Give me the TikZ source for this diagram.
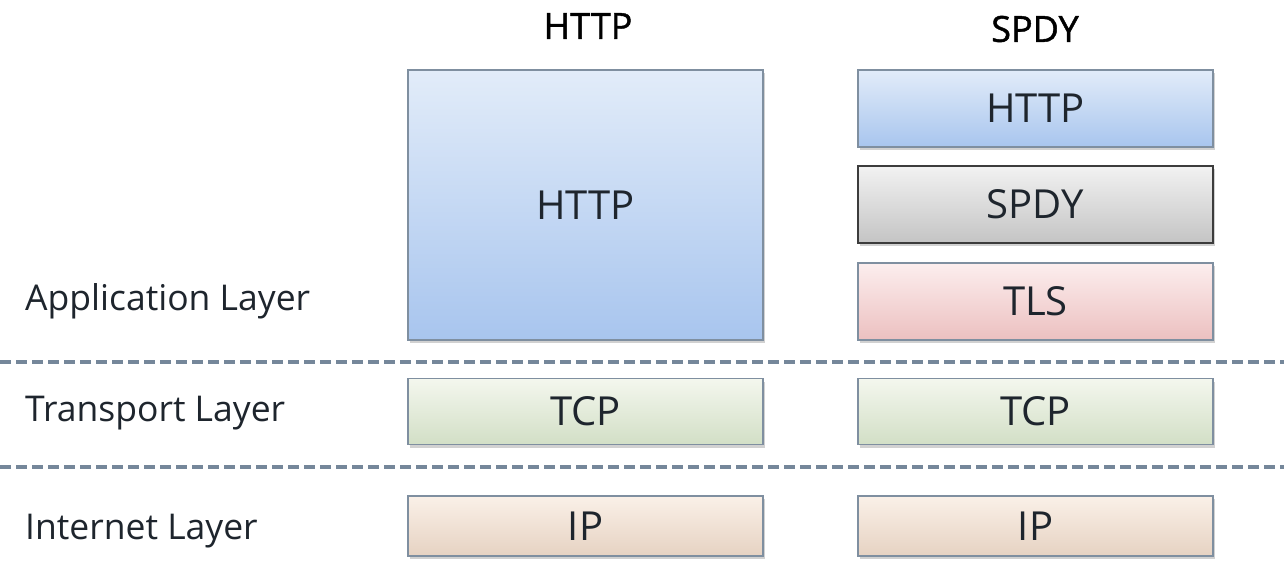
\documentclass[tikz,border=0pt]{standalone}
\usepackage{fontspec}
\setmainfont{Open Sans}
\newfontfamily\hdrfont[FakeBold=1.2]{Open Sans}
\usetikzlibrary{shadows}
\definecolor{bordc}{HTML}{7F8FA0}
\definecolor{dashc}{HTML}{75879A}
\definecolor{txtc}{HTML}{1E252D}
\tikzset{
  layerbox/.style={draw=bordc, line width=1.6pt, minimum width=355pt, inner sep=0pt,
    font=\fontsize{40}{44}\selectfont, text=txtc,
    drop shadow={shadow xshift=2pt, shadow yshift=-3pt, opacity=0.3, fill=black!60}},
  httpblue/.style={layerbox, top color={rgb,255:red,226;green,236;blue,249}, bottom color={rgb,255:red,168;green,197;blue,238}},
  greybox/.style={layerbox, draw={rgb,255:red,60;green,60;blue,60}, top color={rgb,255:red,242;green,242;blue,242}, bottom color={rgb,255:red,196;green,196;blue,196}},
  pinkbox/.style={layerbox, top color={rgb,255:red,252;green,238;blue,238}, bottom color={rgb,255:red,236;green,192;blue,192}},
  greenbox/.style={layerbox, top color={rgb,255:red,244;green,247;blue,238}, bottom color={rgb,255:red,210;green,223;blue,198}},
  tanbox/.style={layerbox, top color={rgb,255:red,250;green,240;blue,232}, bottom color={rgb,255:red,230;green,210;blue,194}},
  layerlabel/.style={anchor=west, font=\fontsize{35.5}{38}\selectfont, text=txtc, inner sep=0pt},
  header/.style={font=\hdrfont\fontsize{36}{40}\selectfont, text=black, inner sep=0pt},
  sep/.style={draw=dashc, line width=4pt, dash pattern=on 11pt off 5pt}
}
\begin{document}
\begin{tikzpicture}[x=1pt,y=-1pt]
\useasboundingbox (0,0) rectangle (1284,565);
\node[header] (hhttp) at (588,26) {HTTP};
\node[header] (hspdy) at (1035,29) {SPDY};
% HTTP column
\node[httpblue, minimum height=270pt] (ahttp) at (585.5,205) {HTTP};
\node[greenbox, minimum height=66pt] (atcp) at (585.5,411.5) {TCP};
\node[tanbox, minimum height=60pt] (aip) at (585.5,526) {IP};
% SPDY column
\node[httpblue, minimum height=77pt] (bhttp) at (1035.5,108.5) {HTTP};
\node[greybox, minimum height=77pt] (bspdy) at (1035.5,204.5) {SPDY};
\node[pinkbox, minimum height=77pt] (btls) at (1035.5,301.5) {TLS};
\node[greenbox, minimum height=66pt] (btcp) at (1035.5,411.5) {TCP};
\node[tanbox, minimum height=60pt] (bip) at (1035.5,526) {IP};
% labels
\node[layerlabel] (lapp) at (25,301) {Application Layer};
\node[layerlabel] (ltr) at (25,413) {Transport Layer};
\node[layerlabel] (lin) at (25,531) {Internet Layer};
% separators
\coordinate (s1a) at (0,362);
\coordinate (s1b) at (1284,362);
\coordinate (s2a) at (0,467);
\coordinate (s2b) at (1284,467);
\draw[sep] (s1a) -- (s1b);
\draw[sep] (s2a) -- (s2b);
\end{tikzpicture}
\end{document}
